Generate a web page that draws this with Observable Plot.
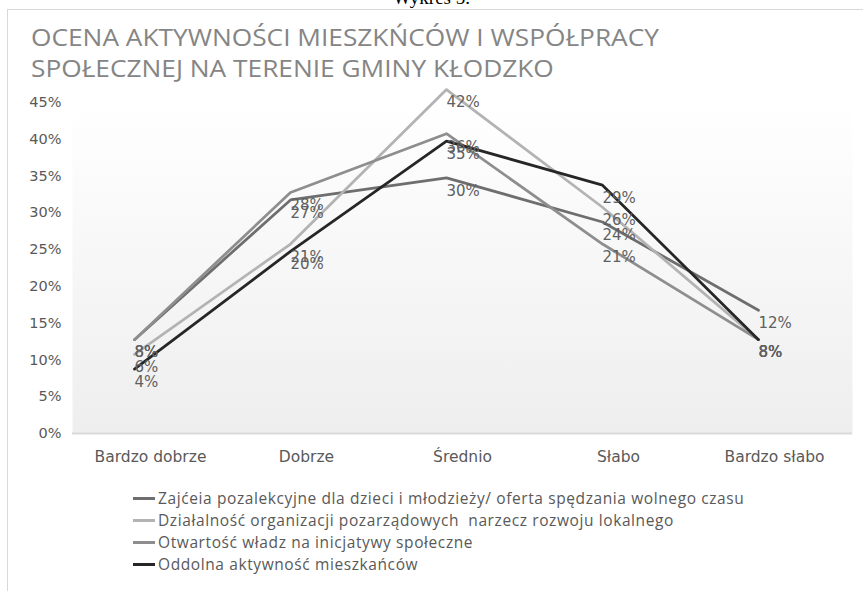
<!DOCTYPE html>
<html>
<head>
<meta charset="utf-8">
<script src="https://cdn.jsdelivr.net/npm/d3@7"></script>
<script src="https://cdn.jsdelivr.net/npm/@observablehq/plot@0.6"></script>
<style>
  html, body { margin: 0; padding: 0; background: #fff; width: 863px; height: 591px; overflow: hidden; position: relative; }
  #frame { position: absolute; left: 7px; top: 9px; width: 880px; height: 600px; border: 1px solid #d9d9d9; box-sizing: border-box; }
  #caption { position: absolute; left: 0; width: 863px; top: -13px; text-align: center; font-family: "Liberation Serif", serif; font-size: 19px; color: #000; }
  #header { position: relative; height: 84px; }
  .title { position: absolute; left: 31px; font-family: "Open Sans", sans-serif; font-size: 23px; color: #858585; white-space: nowrap; transform-origin: 0 50%; }
  #chart { position: relative; }
  #chart svg { overflow: visible; }
  #legend { position: absolute; left: 133px; top: 487px; font-family: "Open Sans", sans-serif; font-size: 15.5px; letter-spacing: 0.6px; color: #595959; }
  .row { height: 22px; line-height: 22px; display: flex; align-items: center; white-space: pre; }
  .sw { width: 22px; height: 3px; margin-right: 3px; }
</style>
</head>
<body>
<div id="frame"></div>
<div id="caption">Wykres 5.</div>
<div id="header">
  <div class="title" id="t1" style="top:21px">OCENA AKTYWNOŚCI MIESZKŃCÓW I WSPÓŁPRACY</div>
  <div class="title" id="t2" style="top:52px">SPOŁECZNEJ NA TERENIE GMINY KŁODZKO</div>
</div>
<div id="chart"></div>
<div id="legend"></div>
<script>
const categories = ["Bardzo dobrze", "Dobrze", "Średnio", "Słabo", "Bardzo słabo"];
const seriesNames = [
  "Zajćeia pozalekcyjne dla dzieci i młodzieży/ oferta spędzania wolnego czasu",
  "Działalność organizacji pozarządowych  narzecz rozwoju lokalnego",
  "Otwartość władz na inicjatywy społeczne",
  "Oddolna aktywność mieszkańców"
];
const zajecia     = [8, 27, 30, 24, 12];
const dzialalnosc = [6, 21, 42, 26, 8];
const otwartosc   = [8, 28, 36, 21, 8];
const oddolna     = [4, 20, 35, 29, 8];
const seriesColors = ["#6e6e6e", "#b3b3b3", "#8e8e8e", "#262626"];
const yTicks = [0, 5, 10, 15, 20, 25, 30, 35, 40, 45];

const allSeries = [zajecia, dzialalnosc, otwartosc, oddolna];
const rows = [];
allSeries.forEach((vals, s) => vals.forEach((v, i) => rows.push({series: seriesNames[s], cat: categories[i], value: v})));

const fontAxis = "DejaVu Sans, sans-serif";

const plot = Plot.plot({
  width: 863,
  height: 396,
  marginTop: 18,
  marginBottom: 47,
  marginLeft: 72,
  marginRight: 11,
  style: {fontFamily: fontAxis, fontSize: "14px", color: "#595959", background: "transparent"},
  x: {type: "point", domain: categories, padding: 0.5, label: null},
  y: {domain: [0, 45], label: null},
  color: {domain: seriesNames, range: seriesColors},
  marks: [
    Plot.frame({fill: "url(#bggrad)", stroke: null}),
    Plot.ruleY([0], {stroke: "#d9d9d9", strokeWidth: 2}),
    Plot.axisY({ticks: yTicks, tickFormat: d => d + "%", tickSize: 0, tickPadding: 11, fontSize: 14.5, label: null}),
    Plot.axisX({tickSize: 0, tickPadding: 17, fontSize: 15.5, label: null}),
    Plot.line(rows, {x: "cat", y: "value", z: "series", stroke: "series", strokeWidth: 2.75, dx: -16, dy: -35, strokeLinejoin: "round"}),
    Plot.text(rows, {x: "cat", y: "value", text: d => d.value + "%", dx: -16, dy: -22, textAnchor: "start", fill: "#606060", fontSize: 15})
  ]
});

const defs = document.createElementNS("http://www.w3.org/2000/svg", "defs");
defs.innerHTML = '<linearGradient id="bggrad" x1="0" y1="0" x2="0" y2="1"><stop offset="0" stop-color="#ffffff"/><stop offset="1" stop-color="#eeeeee"/></linearGradient>';
plot.insertBefore(defs, plot.firstChild);
document.getElementById("chart").appendChild(plot);

// fit title line 1 to the reference width
const t1 = document.getElementById("t1"), t2 = document.getElementById("t2");
const sx = 628 / t1.getBoundingClientRect().width;
t1.style.transform = `scaleX(${sx})`;
t2.style.transform = `scaleX(${sx})`;

const legend = document.getElementById("legend");
seriesNames.forEach((name, i) => {
  const row = document.createElement("div");
  row.className = "row";
  const sw = document.createElement("span");
  sw.className = "sw";
  sw.style.background = seriesColors[i];
  const t = document.createElement("span");
  t.textContent = name;
  row.appendChild(sw);
  row.appendChild(t);
  legend.appendChild(row);
});
</script>
</body>
</html>
